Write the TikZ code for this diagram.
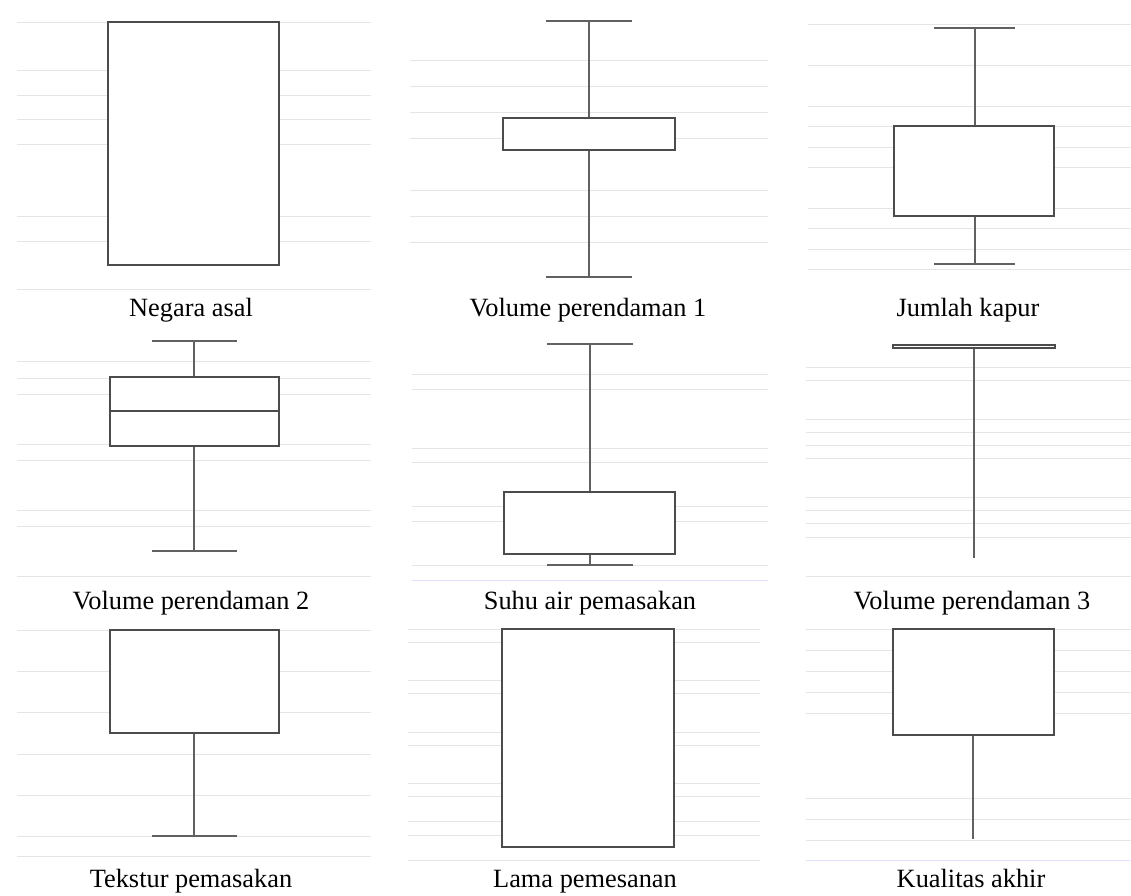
\documentclass[tikz,border=0pt]{standalone}
\usepackage{fontspec}
\setmainfont{Liberation Serif}
\usetikzlibrary{positioning}

\begin{document}
\begin{tikzpicture}[x=0.02cm, y=-0.02cm]
	\tikzstyle{grid}=[draw=black!10, line width=0.5pt]
	\tikzstyle{box}=[draw=black!70, line width=1pt, fill=white]
	\tikzstyle{whisker}=[draw=black!62, line width=0.9pt]
	\tikzstyle{caption}=[anchor=base, inner sep=0pt,
		font=\fontsize{15}{18}\selectfont]
	\useasboundingbox (0,0) rectangle (1131,895);
	% % Row 1
	% negara asal
	\foreach \y in {22,70,95,119,144,216,241,289}
		\draw[grid] (17,\y) -- (371,\y);
	\draw[box] (108,22) rectangle (279,265);
	\node[caption] (negara) at (191,316) {Negara asal};
	% volume perendaman 1
	\foreach \y in {60,86,112,138,190,216,242}
		\draw[grid] (410,\y) -- (768,\y);
	\draw[whisker] (589,21) -- (589,277);
	\draw[whisker] (546,21) -- (632,21);
	\draw[whisker] (546,277) -- (632,277);
	\draw[box] (503,118) rectangle (675,150);
	\node[caption] (vol1) at (588,316) {Volume perendaman 1};
	% jumlah kapur
	\foreach \y in {24,65,106,126,147,167,208,228,249,269}
		\draw[grid] (808,\y) -- (1131,\y);
	\draw[whisker] (975,28) -- (975,264);
	\draw[whisker] (934,28) -- (1015,28);
	\draw[whisker] (934,264) -- (1015,264);
	\draw[box] (894,126) rectangle (1054,216);
	\node[caption] (kapur) at (968,316) {Jumlah kapur};
	% % Row 2
	% volume perendaman 2
	\foreach \y in {361,378,394,444,460,510,526,576}
		\draw[grid] (17,\y) -- (371,\y);
	\draw[whisker] (194,341) -- (194,551);
	\draw[whisker] (152,341) -- (237,341);
	\draw[whisker] (152,551) -- (237,551);
	\draw[box] (110,377) rectangle (279,446);
	\draw[box] (110,411) -- (279,411);
	\node[caption] (vol2) at (191,609) {Volume perendaman 2};
	% suhu air pemasakan
	\foreach \y in {374,389,448,462,506,521,565}
		\draw[grid] (412,\y) -- (768,\y);
	\draw[grid, draw=blue!12] (412,580) -- (768,580);
	\draw[whisker] (590,344) -- (590,565);
	\draw[whisker] (547,344) -- (633,344);
	\draw[whisker] (547,565) -- (633,565);
	\draw[box] (504,492) rectangle (675,554);
	\node[caption] (suhu) at (590,609) {Suhu air pemasakan};
	% volume perendaman 3
	\foreach \y in {367,380,419,432,445,458,497,510,523,537,576}
		\draw[grid] (806,\y) -- (1131,\y);
	\draw[whisker] (974,348) -- (974,558);
	\draw[box] (893,345) rectangle (1055,348);
	\node[caption] (vol3) at (972,609) {Volume perendaman 3};
	% % Row 3
	% tekstur pemasakan
	\foreach \y in {630,671,712,754,795,836,856}
		\draw[grid] (17,\y) -- (371,\y);
	\draw[whisker] (194,733) -- (194,836);
	\draw[whisker] (152,836) -- (237,836);
	\draw[box] (110,630) rectangle (279,733);
	\node[caption] (tekstur) at (191,887) {Tekstur pemasakan};
	% lama pemesanan
	\foreach \y in {629,642,680,693,732,745,783,796,821,835,860}
		\draw[grid] (408,\y) -- (760,\y);
	\draw[box] (502,629) rectangle (674,847);
	\node[caption] (lama) at (585,887) {Lama pemesanan};
	% kualitas akhir
	\foreach \y in {629,650,671,692,713,798,819,840}
		\draw[grid] (806,\y) -- (1131,\y);
	\draw[grid, draw=blue!12] (806,860) -- (1131,860);
	\draw[whisker] (973,735) -- (973,839);
	\draw[box] (893,629) rectangle (1054,735);
	\node[caption] (kualitas) at (971,887) {Kualitas akhir};
\end{tikzpicture}
\end{document}
